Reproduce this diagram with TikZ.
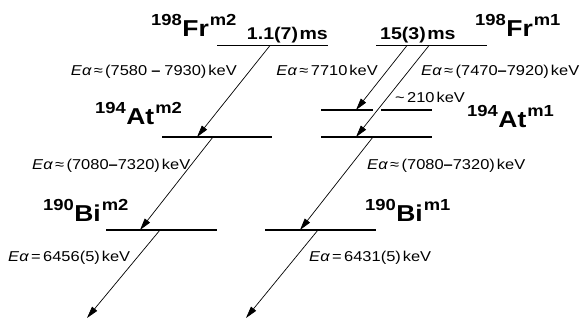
\documentclass[tikz,border=0pt]{standalone}
\usepackage{fontspec}
\setmainfont{Liberation Sans}[FakeStretch=1.15]
\usetikzlibrary{arrows.meta}
\newcommand{\isolab}[3]{{\bfseries\raisebox{11.5pt}{\fontsize{16}{16}\selectfont #1}\kern0.5pt{\fontsize{23}{23}\selectfont #2}\kern1pt\raisebox{11.5pt}{\fontsize{16}{16}\selectfont #3}}}
\newcommand{\Ea}{{\itshape E\kern0.3pt α}}
\newcommand{\bdash}{\textbf{–}}
\tikzset{
  level/.style={line width=1.4pt},
  decay/.style={line width=0.7pt,-{Triangle[length=12pt,width=6.5pt]}},
  elab/.style={inner sep=0pt,font=\fontsize{14.3}{14.3}\selectfont},
  iso/.style={inner sep=0pt},
  hl/.style={inner sep=0pt,font=\bfseries\fontsize{17}{17}\selectfont}
}
\begin{document}
\begin{tikzpicture}[x=1pt,y=-1pt]
\useasboundingbox (0,0) rectangle (584,320);
% levels
\coordinate (frm2a) at (217,45.5); \coordinate (frm2b) at (328,45.5);
\coordinate (frm1a) at (376,45.5); \coordinate (frm1b) at (487,45.5);
\coordinate (atm2a) at (162,137); \coordinate (atm2b) at (272,137);
\coordinate (atxa) at (321,110); \coordinate (atxb) at (373,110);
\coordinate (atxc) at (381,110); \coordinate (atxd) at (432,110);
\coordinate (atm1a) at (321,137); \coordinate (atm1b) at (432,137);
\coordinate (bim2a) at (106,230); \coordinate (bim2b) at (217,230);
\coordinate (bim1a) at (265,230); \coordinate (bim1b) at (376,230);
\draw[level] (frm2a) -- (frm2b);
\draw[level] (frm1a) -- (frm1b);
\draw[level] (atm2a) -- (atm2b);
\draw[level] (atxa) -- (atxb);
\draw[level] (atxc) -- (atxd);
\draw[level] (atm1a) -- (atm1b);
\draw[level] (bim2a) -- (bim2b);
\draw[level] (bim1a) -- (bim1b);
% decay arrow end points
\coordinate (s1) at (270,45.5); \coordinate (e1) at (197,137);
\coordinate (s2) at (407,45.5); \coordinate (e2) at (356,110);
\coordinate (s3) at (429,45.5); \coordinate (e3) at (356,137);
\coordinate (s4) at (213,137); \coordinate (e4) at (140,230);
\coordinate (s5) at (373,137); \coordinate (e5) at (300,230);
\coordinate (s6) at (160,230); \coordinate (e6) at (87,318);
\coordinate (s7) at (318,230); \coordinate (e7) at (246,318);
\draw[decay] (s1) -- (e1);
\draw[decay] (s2) -- (e2);
\draw[decay] (s3) -- (e3);
\draw[decay] (s4) -- (e4);
\draw[decay] (s5) -- (e5);
\draw[decay] (s6) -- (e6);
\draw[decay] (s7) -- (e7);
% isotope labels
\node[iso,anchor=base west] (frm2) at (151,36.7) {\isolab{198}{Fr}{m2}};
\node[iso,anchor=base west] (frm1) at (475,37) {\isolab{198}{Fr}{m1}};
\node[iso,anchor=base west] (atm2) at (95,125) {\isolab{194}{At}{m2}};
\node[iso,anchor=base west] (atm1) at (467,128) {\isolab{194}{At}{m1}};
\node[iso,anchor=base west] (bim2) at (43,222) {\isolab{190}{Bi}{m2}};
\node[iso,anchor=base west] (bim1) at (365,222) {\isolab{190}{Bi}{m1}};
% half-lives
\node[hl,anchor=base east] (t2) at (328,40) {1.1(7)\kern1.5pt ms};
\node[hl,anchor=base west] (t1) at (380,40) {15(3)\kern1.5pt ms};
% energies
\node[elab,anchor=base east] (l1) at (237,76) {\Ea\,≈\,(7580\kern4pt\bdash\kern4pt 7930)\kern2pt keV};
\node[elab,anchor=base east] (l2) at (378,76) {\Ea\,≈\,7710\kern2pt keV};
\node[elab,anchor=base west] (l3) at (421,76) {\Ea\,≈\,(7470\bdash7920)\kern2pt keV};
\node[elab,anchor=base west] (l4) at (395,103) {\textasciitilde\,210\kern2pt keV};
\node[elab,anchor=base west] (l5) at (32,170) {\Ea\,≈\,(7080\bdash7320)\kern2pt keV};
\node[elab,anchor=base west] (l6) at (367,170) {\Ea\,≈\,(7080\bdash7320)\kern2pt keV};
\node[elab,anchor=base west] (l7) at (8,262) {\Ea\,=\,6456(5)\kern2pt keV};
\node[elab,anchor=base west] (l8) at (309,262) {\Ea\,=\,6431(5)\kern2pt keV};
\end{tikzpicture}
\end{document}
